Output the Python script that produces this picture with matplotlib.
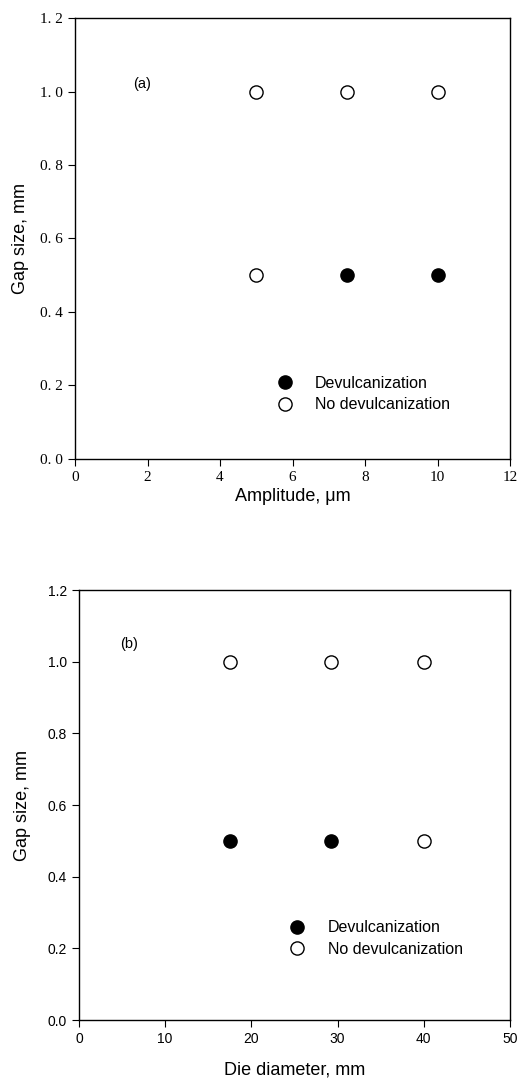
import matplotlib
matplotlib.use("Agg")
import matplotlib.pyplot as plt

# panel (a): amplitude vs gap size
amp_devulc = [7.5, 10.0]
gap_devulc_a = [0.5, 0.5]
amp_nodevulc = [5.0, 7.5, 10.0, 5.0]
gap_nodevulc_a = [1.0, 1.0, 1.0, 0.5]

# panel (b): die diameter vs gap size
die_devulc = [17.5, 29.2]
gap_devulc_b = [0.5, 0.5]
die_nodevulc = [17.5, 29.2, 40.0, 40.0]
gap_nodevulc_b = [1.0, 1.0, 1.0, 0.5]

yticks = [0.0, 0.2, 0.4, 0.6, 0.8, 1.0, 1.2]
xticks_a = [0, 2, 4, 6, 8, 10, 12]
xticks_b = [0, 10, 20, 30, 40, 50]

fig = plt.figure(figsize=(5.3, 10.85), dpi=100)
ax1 = fig.add_axes([0.1415, 0.577, 0.821, 0.4064])
ax2 = fig.add_axes([0.149, 0.0599, 0.813, 0.3963])

ms = 9.5
sans = "Liberation Sans"
serif = "Liberation Serif"


def draw(ax, xd, yd, xn, yn):
    ax.plot(xd, yd, "o", color="black", mec="black", ms=ms, ls="none",
            label="Devulcanization")
    ax.plot(xn, yn, "o", color="white", mec="black", mew=1.0, ms=ms, ls="none",
            label="No devulcanization")
    ax.set_ylim(0, 1.2)
    ax.set_yticks(yticks)
    ax.tick_params(direction="out", length=5, width=0.8, top=False, right=False)
    for s in ax.spines.values():
        s.set_linewidth(1.0)


# top
draw(ax1, amp_devulc, gap_devulc_a, amp_nodevulc, gap_nodevulc_a)
ax1.set_xlim(0, 12)
ax1.set_xticks(xticks_a)
ax1.set_xticklabels([str(v) for v in xticks_a], family=serif, fontsize=11)
ax1.set_yticklabels([f"{v:.1f}".replace(".", ". ") for v in yticks],
                    family=serif, fontsize=11)
ax1.set_xlabel("Amplitude, μm", family=sans, fontsize=13, labelpad=3)
ax1.set_ylabel("Gap size, mm", family=sans, fontsize=13, labelpad=8)
ax1.text(1.85, 1.02, "(a)", family=sans, fontsize=10.5, ha="center", va="center")
ax1.legend(loc="center left", bbox_to_anchor=(0.445, 0.147), frameon=False,
           handlelength=1.0, handletextpad=1.4, labelspacing=0.4, borderpad=0,
           prop={"family": sans, "size": 11.5})

# bottom
draw(ax2, die_devulc, gap_devulc_b, die_nodevulc, gap_nodevulc_b)
ax2.set_xlim(0, 50)
ax2.set_xticks(xticks_b)
ax2.set_xticklabels([str(v) for v in xticks_b], family=sans, fontsize=10)
ax2.set_yticklabels([f"{v:.1f}" for v in yticks], family=sans, fontsize=10)
ax2.set_xlabel("Die diameter, mm", family=sans, fontsize=13, labelpad=11)
ax2.set_ylabel("Gap size, mm", family=sans, fontsize=13, labelpad=12)
ax2.text(5.8, 1.05, "(b)", family=sans, fontsize=10.5, ha="center", va="center")
ax2.legend(loc="center left", bbox_to_anchor=(0.47, 0.19), frameon=False,
           handlelength=1.0, handletextpad=1.4, labelspacing=0.4, borderpad=0,
           prop={"family": sans, "size": 11.5})

fig.savefig("out.png", dpi=100)
